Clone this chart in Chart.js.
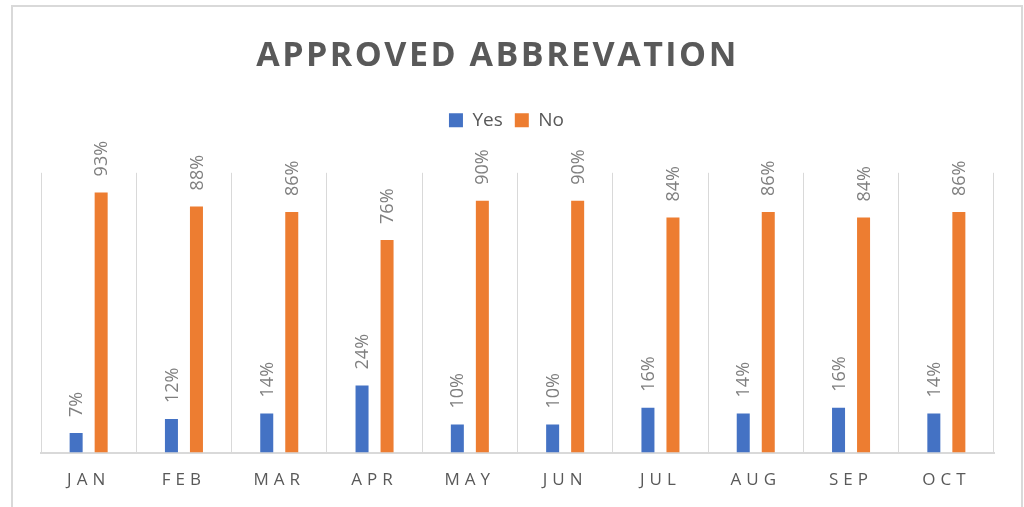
<!DOCTYPE html>
<html>
<head>
<meta charset="utf-8">
<script src="https://cdn.jsdelivr.net/npm/chart.js@4/dist/chart.umd.min.js"></script>
<style>
  html, body { margin: 0; padding: 0; background: #fff; overflow: hidden; }
  #wrap {
    position: absolute; left: 11px; top: 5px;
    width: 1008px; height: 510px;
    border: 2px solid #d9d9d9;
  }
  #chart { display: block; }
</style>
</head>
<body>
<div id="wrap"><canvas id="chart" width="1008" height="500"></canvas></div>
<script>
(function() {

    var months = ["JAN", "FEB", "MAR", "APR", "MAY", "JUN", "JUL", "AUG", "SEP", "OCT"];
    var yesValues = [7, 12, 14, 24, 10, 10, 16, 14, 16, 14];
    var noValues = [93, 88, 86, 76, 90, 90, 84, 86, 84, 86];

    var textGrey = "#595959";
    var labelGrey = "#7f7f7f";
    var gridGrey = "#d9d9d9";

    // wraps a box's draw with its own letter spacing and a small x shift
    function wrapDraw(box, spacing, dx) {
        if (!box || box._wrapped) return;
        var draw = box.draw;
        box.draw = function() {
            this.ctx.save();
            this.ctx.letterSpacing = spacing;
            this.ctx.translate(dx, 0);
            draw.apply(this, arguments);
            this.ctx.restore();
        };
        box._wrapped = true;
    }

    var spacingPlugin = {
        id: 'spacing',
        afterInit: function(chart) {
            // extra room under the legend, like the excel plot area
            var legend = chart.legend;
            var fit = legend.fit;
            legend.fit = function() {
                fit.call(this);
                this.height += 33;
            };
        },
        beforeDraw: function(chart) {
            wrapDraw(chart.titleBlock, '2.5px', -20);
            wrapDraw(chart.legend, '0px', -11);
            var x = chart.scales.x;
            if (x && !x._spaced) {
                var drawLabels = x.drawLabels;
                x.drawLabels = function() {
                    this.ctx.save();
                    this.ctx.letterSpacing = '5px';
                    drawLabels.apply(this, arguments);
                    this.ctx.restore();
                };
                x._spaced = true;
            }
        }
    };

    // rotated value labels above each bar
    var valueLabels = {
        id: 'valueLabels',
        afterDatasetsDraw: function(chart) {
            var ctx = chart.ctx;
            ctx.save();
            ctx.letterSpacing = '0px';
            ctx.font = '18px "Open Sans"';
            ctx.fillStyle = labelGrey;
            ctx.textAlign = 'left';
            ctx.textBaseline = 'middle';
            chart.data.datasets.forEach(function(ds, i) {
                var meta = chart.getDatasetMeta(i);
                meta.data.forEach(function(bar, j) {
                    ctx.save();
                    ctx.translate(bar.x, bar.y - 16);
                    ctx.rotate(-Math.PI / 2);
                    ctx.fillText(ds.data[j] + '%', 0, 1);
                    ctx.restore();
                });
            });
            ctx.restore();
        }
    };

    var ctx = document.getElementById('chart');
    var myChart = new Chart(ctx, {
        type: 'bar',
        data: {
            labels: months,
            datasets: [{
                label: 'Yes',
                data: yesValues,
                backgroundColor: '#4472c4',
                categoryPercentage: 0.525,
                barPercentage: 0.52
            }, {
                label: 'No',
                data: noValues,
                backgroundColor: '#ed7d31',
                categoryPercentage: 0.525,
                barPercentage: 0.52
            }]
        },
        options: {
            responsive: false,
            animation: false,
            layout: {
                padding: { left: 28, right: 27, top: 8, bottom: 0 }
            },
            plugins: {
                title: {
                    display: true,
                    text: 'APPROVED ABBREVATION',
                    color: textGrey,
                    font: { family: '"Open Sans"', size: 34, weight: 'bold' },
                    padding: { top: 21, bottom: 22 }
                },
                legend: {
                    display: true,
                    labels: {
                        color: textGrey,
                        font: { family: '"Open Sans"', size: 19 },
                        boxWidth: 14,
                        boxHeight: 14,
                        padding: 12
                    }
                },
                tooltip: { enabled: false }
            },
            scales: {
                x: {
                    grid: {
                        display: true,
                        offset: true,
                        color: gridGrey,
                        lineWidth: 1,
                        drawTicks: false
                    },
                    border: { display: true, color: gridGrey, width: 2 },
                    ticks: {
                        color: textGrey,
                        font: { family: '"Open Sans"', size: 17 },
                        padding: 17
                    }
                },
                y: {
                    display: false,
                    min: 0,
                    max: 100
                }
            }
        },
        plugins: [spacingPlugin, valueLabels]
    });

})();
</script>
</body>
</html>
